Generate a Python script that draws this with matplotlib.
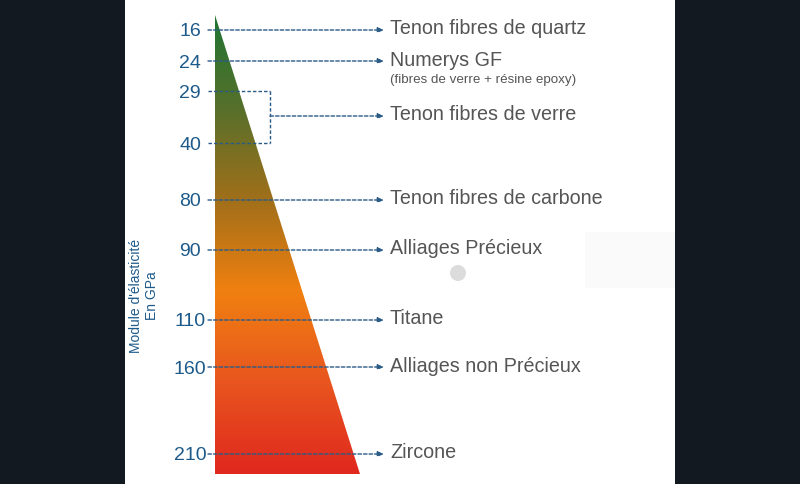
import matplotlib.pyplot as plt
import numpy as np
from matplotlib.colors import LinearSegmentedColormap
from matplotlib.patches import Polygon, Rectangle, Circle

plt.rcParams['font.family'] = ['Liberation Sans', 'DejaVu Sans']

# valeurs du module d'elasticite (GPa) et materiaux
modules = [16, 24, 29, 40, 80, 90, 110, 160, 210]
materiaux = ["Tenon fibres de quartz", "Numerys GF", "Tenon fibres de verre",
             "Tenon fibres de carbone", "Alliages Précieux", "Titane",
             "Alliages non Précieux", "Zircone"]
sous_titre = "(fibres de verre + résine epoxy)"
# lignes (pixels) de chaque graduation
pos_y = [30, 61, 91, 143, 200, 250, 320, 367, 454]

fig = plt.figure(figsize=(8, 4.84), dpi=100)
fig.patch.set_facecolor('#121921')
ax = fig.add_axes([0, 0, 1, 1])
ax.set_xlim(0, 800)
ax.set_ylim(484, 0)
ax.axis('off')

# panneau blanc
ax.add_patch(Rectangle((125, 0), 550, 484, facecolor='white', edgecolor='none', zorder=0))
ax.add_patch(Rectangle((585, 232), 90, 56, facecolor='#fafafa', edgecolor='none', zorder=0))
ax.add_patch(Circle((458, 273), 8, facecolor='#dcdcdc', edgecolor='none', zorder=1))

# triangle en degrade
cmap = LinearSegmentedColormap.from_list('rigid', [
    (0.0, '#1f7532'), (0.2, '#56702b'), (0.40, '#a06f1a'),
    (0.60, '#f08010'), (0.78, '#e95a1e'), (1.0, '#e0281f')])
grad = np.linspace(0, 1, 256).reshape(-1, 1)
im = ax.imshow(grad, cmap=cmap, extent=[215, 360, 474, 15], aspect='auto', zorder=2)
tri = Polygon([[215, 15], [215, 474], [360, 474]], closed=True, facecolor='none',
              edgecolor='none', transform=ax.transData)
ax.add_patch(tri)
im.set_clip_path(tri)
ax.set_xlim(0, 800)
ax.set_ylim(484, 0)

bleu = '#1d5a8a'
trait = '#2a5b86'
gris = '#555555'

# graduations (centrees)
for v, y in zip(modules, pos_y):
    ax.text(190, y, str(v), ha='center', va='center_baseline', fontsize=14, color=bleu, zorder=4)

def fleche(x0, y):
    ax.annotate('', xy=(384, y), xytext=(x0, y),
                arrowprops=dict(arrowstyle='-|>,head_length=0.35,head_width=0.15',
                                color=trait, lw=1, linestyle=(0, (2.5, 1.5)),
                                shrinkA=0, shrinkB=0), zorder=3)

ls = (0, (2.5, 1.5))
y_txt = []
for i, y in enumerate(pos_y):
    if i in (2, 3):
        ax.plot([208, 270], [y, y], color=trait, lw=1, linestyle=ls, zorder=3)
        continue
    fleche(208, y)
    y_txt.append(y)
# accolade 29-40
ymid = (pos_y[2] + pos_y[3]) / 2 - 1
ax.plot([270, 270], [pos_y[2], pos_y[3]], color=trait, lw=1, linestyle=ls, zorder=3)
fleche(270, ymid)
y_txt.insert(2, ymid)

for nom, y in zip(materiaux, y_txt):
    ax.text(390, y - 3, nom, ha='left', va='center_baseline', fontsize=14.2, color=gris, zorder=4)
ax.text(390, 78, sous_titre, ha='left', va='center_baseline', fontsize=9.6, color=gris, zorder=4)

ax.text(136, 296, "Module d'élasticité", rotation=90, ha='center', va='center',
        fontsize=10, color=bleu)
ax.text(152, 296, "En GPa", rotation=90, ha='center', va='center',
        fontsize=10, color=bleu)

plt.savefig("out.png", dpi=100, facecolor=fig.get_facecolor())
